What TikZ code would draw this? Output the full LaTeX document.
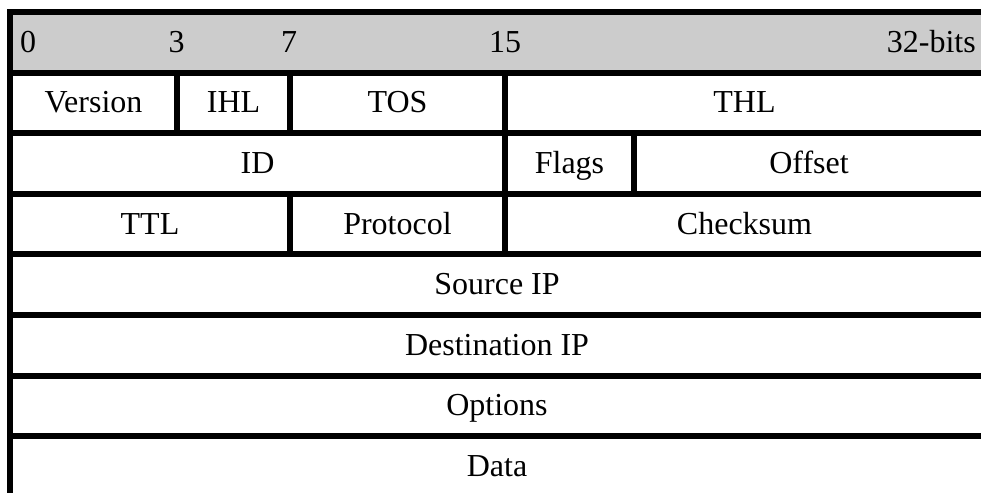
\documentclass[tikz,border=0pt]{standalone}
\usepackage{fontspec}
\setmainfont{Liberation Serif}
\usetikzlibrary{positioning}

\begin{document}
\begin{tikzpicture}[
    x=1pt, y=-1pt,
    field/.style={draw, line width=6pt, inner sep=0pt, outer sep=0pt, minimum height=60.6pt, text height=27pt, text depth=7pt, font=\fontsize{32}{38}\selectfont},
    hdr/.style={field, fill=black!20, minimum width=974pt},
    bit/.style={inner sep=0pt, text height=27pt, text depth=7pt, font=\fontsize{32}{38}\selectfont}
]
\useasboundingbox (0,0) rectangle (981,492);
% header with bit numbers
\node[hdr] (head) at (497,42.3) {};
\node[bit, anchor=west] (b0) at (20,42.3) {0};
\node[bit] (b3) at (176.5,42.3) {3};
\node[bit] (b7) at (289,42.3) {7};
\node[bit] (b15) at (505,42.3) {15};
\node[bit, anchor=east] (b32) at (976,42.3) {32-bits};
% row 1
\node[field, minimum width=167pt] (ver) at (93.5,102.9) {Version};
\node[field, minimum width=113pt] (ihl) at (233.5,102.9) {IHL};
\node[field, minimum width=215pt] (tos) at (397.5,102.9) {TOS};
\node[field, minimum width=479pt] (thl) at (744.5,102.9) {THL};
% row 2
\node[field, minimum width=495pt] (id) at (257.5,163.5) {ID};
\node[field, minimum width=129pt] (flags) at (569.5,163.5) {Flags};
\node[field, minimum width=350pt] (off) at (809,163.5) {Offset};
% row 3
\node[field, minimum width=280pt] (ttl) at (150,224.1) {TTL};
\node[field, minimum width=215pt] (proto) at (397.5,224.1) {Protocol};
\node[field, minimum width=479pt] (csum) at (744.5,224.1) {Checksum};
% full rows
\node[field, minimum width=974pt] (src) at (497,284.7) {Source IP};
\node[field, minimum width=974pt] (dst) at (497,345.3) {Destination IP};
\node[field, minimum width=974pt] (opt) at (497,405.9) {Options};
\node[field, minimum width=974pt] (data) at (497,466.5) {Data};
\end{tikzpicture}
\end{document}
